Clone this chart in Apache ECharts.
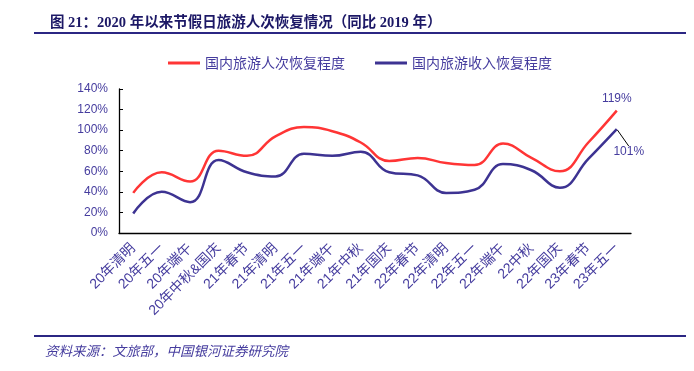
<!DOCTYPE html>
<html>
<head>
<meta charset="utf-8">
<script src="https://cdn.jsdelivr.net/npm/echarts@6/dist/echarts.min.js"></script>
<style>
html,body{margin:0;padding:0;background:#fff;}
#c{width:694px;height:371px;}
</style>
</head>
<body>
<div id="c"></div>
<script>
var categories = ['20年清明','20年五一','20年端午','20年中秋&国庆','21年春节','21年清明','21年五一','21年端午','21年中秋','21年国庆','22年春节','22年清明','22年五一','22年端午','22中秋','22年国庆','23年春节','23年五一'];
var visitorRecovery = [39, 59, 50, 80, 75, 94, 103, 99, 88, 70, 73, 68, 66, 87, 73, 60, 88, 119];
var revenueRecovery = [19, 40, 30, 71, 59, 55, 77, 75, 79, 59, 56, 39, 42, 67, 61, 44, 72, 101];
var seriesNames = ['国内旅游人次恢复程度', '国内旅游收入恢复程度'];
var titleText = '图 21：2020 年以来节假日旅游人次恢复情况（同比 2019 年）';
var sourceText = '资料来源：文旅部，中国银河证券研究院';

var textColor = '#453c9e';
var lastIdx = categories.length - 1;

function withEndLabel(arr, labelCfg) {
  return arr.map(function (v, i) {
    if (i === lastIdx) {
      return {
        value: v,
        symbol: 'circle',
        symbolSize: 2,
        itemStyle: { color: 'rgba(0,0,0,0)' },
        label: labelCfg
      };
    }
    return v;
  });
}

var chart = echarts.init(document.getElementById('c'), null, { renderer: 'canvas' });
chart.setOption({
  animation: false,
  backgroundColor: '#fff',
  title: {
    text: titleText,
    left: 45,
    top: 11,
    textStyle: {
      fontSize: 14.5,
      fontWeight: 'bold',
      color: '#1c1866',
      fontFamily: '"Liberation Serif", "Noto Sans CJK SC", serif'
    }
  },
  graphic: [
    { type: 'rect', shape: { x: 34, y: 32, width: 652, height: 2 }, style: { fill: '#2b2683' } },
    { type: 'rect', shape: { x: 34, y: 335, width: 652, height: 2 }, style: { fill: '#2b2683' } },
    {
      type: 'text', left: 45, top: 344,
      style: {
        text: sourceText, fill: textColor, fontSize: 13.5, fontStyle: 'italic',
        fontFamily: '"Noto Sans CJK SC", sans-serif'
      }
    }
  ],
  legend: {
    left: 163,
    top: 51,
    itemWidth: 32,
    itemHeight: 3,
    itemGap: 30,
    icon: 'rect',
    textStyle: { fontSize: 14, color: textColor, fontFamily: '"Noto Sans CJK SC", sans-serif' },
    data: seriesNames
  },
  grid: { left: 119, right: 63, top: 89, bottom: 138, containLabel: false },
  xAxis: {
    type: 'category',
    data: categories,
    boundaryGap: true,
    axisLine: { lineStyle: { color: '#000', width: 1.3 } },
    axisTick: { inside: true, length: 4, lineStyle: { color: '#000' } },
    axisLabel: {
      rotate: 45,
      interval: 0,
      margin: 13,
      fontSize: 14,
      color: textColor,
      fontFamily: '"Liberation Sans", "Noto Sans CJK SC", sans-serif'
    }
  },
  yAxis: {
    type: 'value',
    min: 0,
    max: 140,
    interval: 20,
    splitLine: { show: false },
    axisLine: { show: true, lineStyle: { color: '#000', width: 1.3 } },
    axisTick: { show: true, inside: true, length: 4, lineStyle: { color: '#000' } },
    axisLabel: {
      formatter: '{value}%',
      fontSize: 12,
      margin: 11,
      color: textColor,
      fontFamily: '"Liberation Sans", sans-serif'
    }
  },
  series: [
    {
      name: seriesNames[0],
      type: 'line',
      smooth: 0.45,
      symbol: 'none',
      itemStyle: { color: '#ff3535' },
      lineStyle: { color: '#ff3535', width: 2.5 },
      data: withEndLabel(visitorRecovery, {
        show: true, position: 'top', distance: 5, formatter: '{c}%',
        fontSize: 12, color: textColor, fontFamily: '"Liberation Sans", sans-serif'
      })
    },
    {
      name: seriesNames[1],
      type: 'line',
      smooth: 0.45,
      symbol: 'none',
      itemStyle: { color: '#3d3392' },
      lineStyle: { color: '#3d3392', width: 2.5 },
      labelLayout: { dx: 12, dy: 14 },
      labelLine: { show: true, lineStyle: { color: '#000', width: 1 } },
      data: withEndLabel(revenueRecovery, {
        show: true, position: 'bottom', distance: 2, formatter: '{c}%',
        fontSize: 12, color: textColor, fontFamily: '"Liberation Sans", sans-serif'
      })
    }
  ]
});
</script>
</body>
</html>
